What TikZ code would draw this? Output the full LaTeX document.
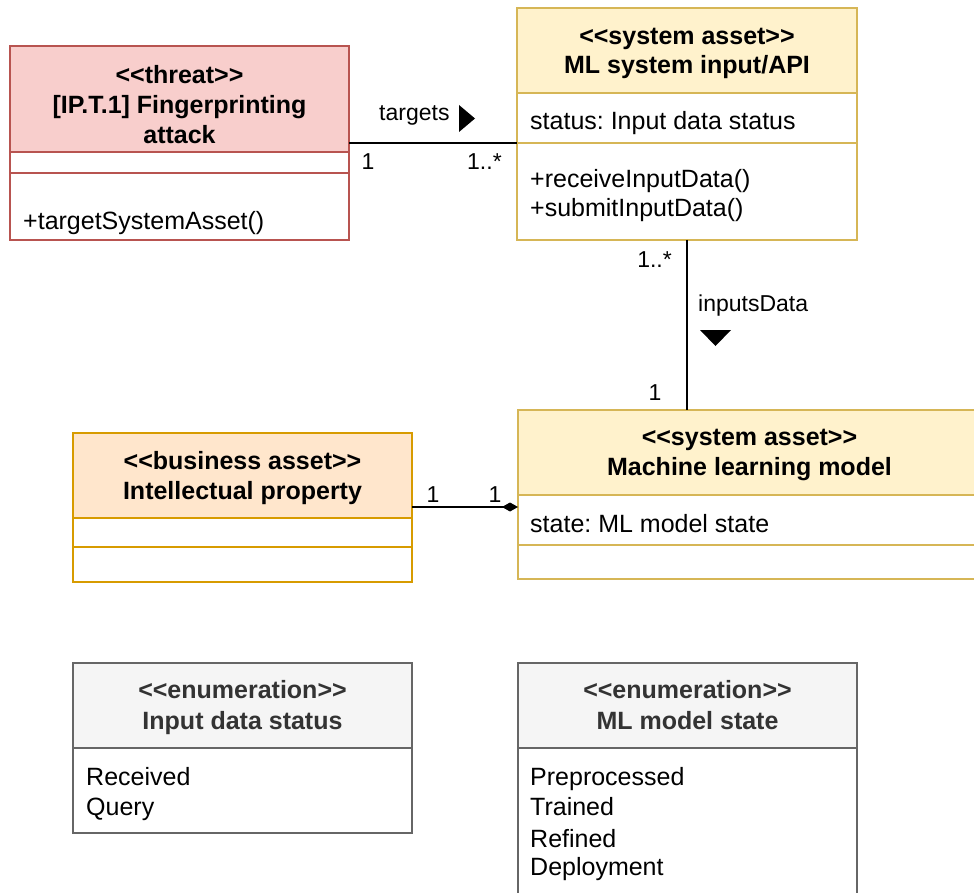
\documentclass[tikz,border=0pt]{standalone}
\usepackage{fontspec}
\setmainfont{Liberation Sans}[Ligatures=TeXOff]
\frenchspacing
\usetikzlibrary{arrows.meta,calc}

\definecolor{threatfill}{HTML}{F8CECC}
\definecolor{threatline}{HTML}{B85450}
\definecolor{sysfill}{HTML}{FFF2CC}
\definecolor{sysline}{HTML}{D6B656}
\definecolor{bizfill}{HTML}{FFE6CC}
\definecolor{bizline}{HTML}{D79B00}
\definecolor{enumfill}{HTML}{F5F5F5}
\definecolor{enumline}{HTML}{666666}
\definecolor{enumtext}{HTML}{333333}

\tikzset{
  comp/.style={line width=2pt, anchor=north west, inner sep=0pt, outer sep=0pt},
  threatbox/.style={comp, draw=threatline, fill=threatfill},
  sysbox/.style={comp, draw=sysline, fill=sysfill},
  bizbox/.style={comp, draw=bizline, fill=bizfill},
  enumbox/.style={comp, draw=enumline, fill=enumfill},
  plain/.style={fill=white},
  title/.style={anchor=base, inner sep=0pt, font=\fontsize{25}{30}\selectfont\bfseries},
  member/.style={anchor=base west, inner sep=0pt, font=\fontsize{25}{30}\selectfont},
  lbl/.style={inner sep=0pt, font=\fontsize{23}{27}\selectfont},
  assoc/.style={line width=2pt, black},
}

\begin{document}
\begin{tikzpicture}[x=1pt,y=-1pt]
\useasboundingbox (0,0) rectangle (974,893);
\fill[white] (0,0) rectangle (974,893);
\clip (0,0) rectangle (974,893);

% --- threat class
\node[threatbox, minimum width=339pt, minimum height=106pt] (thrhead) at (10,46) {};
\node[threatbox, plain, minimum width=339pt, minimum height=21pt] (thrattr) at (10,152) {};
\node[threatbox, plain, minimum width=339pt, minimum height=67pt] (throps) at (10,173) {};
\node[title] (thrt1) at (179.5,84) {<<threat>>};
\node[title] (thrt2) at (179.5,114) {[IP.T.1] Fingerprinting};
\node[title] (thrt3) at (179.5,144) {attack};
\node[member] (thrm1) at (23,230) {+targetSystemAsset()};

% --- ML system input/API
\node[sysbox, minimum width=340pt, minimum height=85pt] (apihead) at (517,8) {};
\node[sysbox, plain, minimum width=340pt, minimum height=50pt] (apiattr) at (517,93) {};
\node[sysbox, plain, minimum width=340pt, minimum height=97pt] (apiops) at (517,143) {};
\node[title] (apit1) at (687,45) {<<system asset>>};
\node[title] (apit2) at (687,74) {ML system input/API};
\node[member] (apia1) at (530,130) {status: Input data status};
\node[member] (apim1) at (530,188) {+receiveInputData()};
\node[member] (apim2) at (530,217) {+submitInputData()};

% --- Machine learning model
\node[sysbox, minimum width=463pt, minimum height=85pt] (mlhead) at (518,410) {};
\node[sysbox, plain, minimum width=463pt, minimum height=50pt] (mlattr) at (518,495) {};
\node[sysbox, plain, minimum width=463pt, minimum height=34pt] (mlops) at (518,545) {};
\node[title] (mlt1) at (749.5,445) {<<system asset>>};
\node[title] (mlt2) at (749.5,475) {Machine learning model};
\node[member] (mla1) at (530,532) {state: ML model state};

% --- Intellectual property
\node[bizbox, minimum width=339pt, minimum height=85pt] (iphead) at (73,433) {};
\node[bizbox, plain, minimum width=339pt, minimum height=29pt] (ipattr) at (73,518) {};
\node[bizbox, plain, minimum width=339pt, minimum height=35pt] (ipops) at (73,547) {};
\node[title] (ipt1) at (242.5,469) {<<business asset>>};
\node[title] (ipt2) at (242.5,499) {Intellectual property};

% --- enumeration: Input data status
\node[enumbox, minimum width=339pt, minimum height=85pt] (en1head) at (73,663) {};
\node[enumbox, plain, minimum width=339pt, minimum height=85pt] (en1body) at (73,748) {};
\node[title, text=enumtext] (en1t1) at (242.5,698) {<<enumeration>>};
\node[title, text=enumtext] (en1t2) at (242.5,729) {Input data status};
\node[member] (en1v1) at (86,785) {Received};
\node[member] (en1v2) at (86,815) {Query};

% --- enumeration: ML model state
\node[enumbox, minimum width=339pt, minimum height=85pt] (en2head) at (518,663) {};
\node[enumbox, plain, minimum width=339pt, minimum height=160pt] (en2body) at (518,748) {};
\node[title, text=enumtext] (en2t1) at (687.5,698) {<<enumeration>>};
\node[title, text=enumtext] (en2t2) at (687.5,729) {ML model state};
\node[member] (en2v1) at (530,785) {Preprocessed};
\node[member] (en2v2) at (530,815) {Trained};
\node[member] (en2v3) at (530,847) {Refined};
\node[member] (en2v4) at (530,875) {Deployment};

% --- association: targets
\draw[assoc] (thrhead.east |- apiattr.south west) -- (apiattr.south west);
\node[lbl, anchor=base west] (tglbl) at (379,121) {targets};
\fill (459,105) -- (459,132) -- (475,118.5) -- cycle;
\node[lbl, anchor=base] (tgm1) at (368,170) {1};
\node[lbl, anchor=base west] (tgm2) at (467,170) {1..*};

% --- association: inputsData
\draw[assoc] (apiops.south) -- (apiops.south |- mlhead.north);
\node[lbl, anchor=base west] (inlbl) at (698,311) {inputsData};
\fill (700,330) -- (731,330) -- (715.5,346) -- cycle;
\node[lbl, anchor=base east] (inm1) at (672,268) {1..*};
\node[lbl, anchor=base] (inm2) at (655,400) {1};

% --- composition: Intellectual property -- Machine learning model
\coordinate (compfrom) at ($(iphead.south east)+(0,-11)$);
\draw[assoc, -{Diamond[length=16pt,width=9pt]}] (compfrom) -- (compfrom -| mlattr.west);
\node[lbl, anchor=base] (cpm1) at (433,502) {1};
\node[lbl, anchor=base] (cpm2) at (495,502) {1};
\end{tikzpicture}
\end{document}
